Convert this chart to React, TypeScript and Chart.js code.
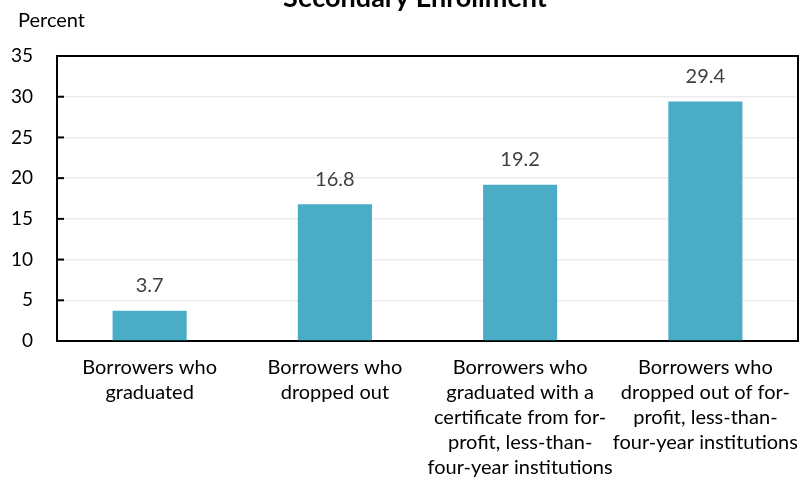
import React, { useEffect, useRef } from "react";
import { Chart, registerables } from "chart.js";

Chart.register(...registerables);

const categories: string[][] = [
  ["Borrowers who", "graduated"],
  ["Borrowers who", "dropped out"],
  ["Borrowers who", "graduated with a", "certificate from for-", "profit, less-than-", "four-year institutions"],
  ["Borrowers who", "dropped out of for-", "profit, less-than-", "four-year institutions"],
];
const values: number[] = [3.7, 16.8, 19.2, 29.4];
const yTicks: number[] = [0, 5, 10, 15, 20, 25, 30, 35];
const titleText = "Secondary Enrollment";
const yAxisTitle = "Percent";

const FONT = "Lato";

const decorPlugin = {
  id: "decor",
  afterDraw(chart: any) {
    const ctx = chart.ctx;
    const area = chart.chartArea;
    const y = chart.scales.y;
    ctx.save();
    // title (partially cut at top)
    ctx.fillStyle = "#000";
    ctx.font = `bold 27px ${FONT}`;
    ctx.textAlign = "center";
    ctx.textBaseline = "alphabetic";
    ctx.fillText(titleText, 415, 7);
    // axis title
    ctx.font = `20px ${FONT}`;
    ctx.textAlign = "left";
    ctx.fillText(yAxisTitle, 18, 27);
    // frame top and right
    ctx.strokeStyle = "#000";
    ctx.lineWidth = 2;
    ctx.beginPath();
    ctx.moveTo(area.left, area.top);
    ctx.lineTo(area.right, area.top);
    ctx.lineTo(area.right, area.bottom);
    ctx.stroke();
    // inner tick marks
    yTicks.forEach((t) => {
      if (t === 0 || t === 35) return;
      const py = y.getPixelForValue(t);
      ctx.beginPath();
      ctx.moveTo(area.left, py);
      ctx.lineTo(area.left + 7, py);
      ctx.stroke();
    });
    // data labels
    const meta = chart.getDatasetMeta(0);
    ctx.fillStyle = "#404040";
    ctx.font = `20px ${FONT}`;
    ctx.textAlign = "center";
    ctx.textBaseline = "middle";
    meta.data.forEach((bar: any, i: number) => {
      ctx.fillText(values[i].toFixed(1), bar.x, bar.y - 25);
    });
    ctx.restore();
  },
};

export default function App() {
  const ref = useRef<HTMLCanvasElement | null>(null);
  useEffect(() => {
    document.body.style.margin = "0";
    if (!ref.current) return;
    const chart = new Chart(ref.current, {
      type: "bar",
      data: {
        labels: categories,
        datasets: [
          {
            data: values,
            backgroundColor: "#4BACC6",
            borderWidth: 0,
            categoryPercentage: 1,
            barPercentage: 0.4,
          },
        ],
      },
      options: {
        animation: false,
        responsive: false,
        layout: { padding: { top: 56, right: 3, left: 0, bottom: 0 } },
        plugins: {
          legend: { display: false },
          tooltip: { enabled: false },
          title: { display: false },
        },
        scales: {
          x: {
            grid: { display: false, drawTicks: false },
            border: { display: true, color: "#000", width: 2 },
            ticks: {
              color: "#000",
              font: { family: FONT, size: 20, lineHeight: 1.25 },
              padding: 14,
              maxRotation: 0,
              autoSkip: false,
            },
            afterFit(scale: any) {
              scale.height = 144;
              scale.paddingLeft = 0;
              scale.paddingRight = 0;
            },
          },
          y: {
            min: 0,
            max: 35,
            ticks: {
              stepSize: 5,
              color: "#000",
              font: { family: FONT, size: 19 },
              padding: 24,
            },
            grid: { color: "#ececec", lineWidth: 1.5, drawTicks: false },
            border: { display: true, color: "#000", width: 2 },
            afterFit(scale: any) {
              scale.width = 57;
              scale.paddingTop = 0;
              scale.paddingBottom = 0;
            },
          },
        },
      },
      plugins: [decorPlugin],
    });
    return () => chart.destroy();
  }, []);
  return (
    <div style={{ width: 801, height: 485 }}>
      <canvas ref={ref} width={801} height={485} />
    </div>
  );
}
